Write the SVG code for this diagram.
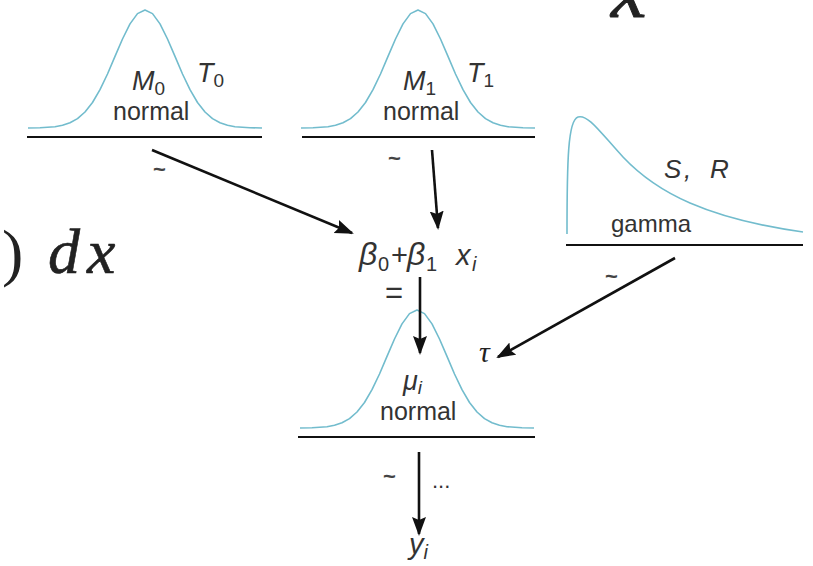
<svg xmlns="http://www.w3.org/2000/svg" width="813" height="566" viewBox="0 0 813 566">
<style>
.curve{fill:none;stroke:#72bccd;stroke-width:1.6;stroke-linejoin:round}
.base{stroke:#111;stroke-width:2}
.edge{stroke:#111;stroke-width:2.6;fill:none}
.t{font-family:"Liberation Sans",Arial,sans-serif;fill:#333}
.it{font-style:italic}
.big{font-family:"Liberation Serif","Times New Roman",serif;fill:#222}
.tilde{font-family:"Liberation Sans",Arial,sans-serif;fill:#444;font-size:22px;font-weight:bold}
</style>
<defs>
<path id="bell" d="M-117,0 L-105,-0.3 L-90,-1.3 L-82.5,-2.7 L-75,-5.2 L-67.5,-9.4 L-60,-16 L-52.5,-25.5 L-45,-38.3 L-37.5,-54 L-30,-71.6 L-22.5,-89 L-15,-104.1 L-7.5,-114.4 L0,-118 L7.5,-114.4 L15,-104.1 L22.5,-89 L30,-71.6 L37.5,-54 L45,-38.3 L52.5,-25.5 L60,-16 L67.5,-9.4 L75,-5.2 L82.5,-2.7 L90,-1.3 L105,-0.3 L117,0"/>
<marker id="ah" markerUnits="userSpaceOnUse" markerWidth="20" markerHeight="16" refX="17" refY="7" orient="auto">
<path d="M0,0 L19,7 L0,14 L3,7 Z" fill="#111"/>
</marker>
</defs>
<rect width="813" height="566" fill="#fff"/>

<g id="math-fragments">
<text class="big it" x="611" y="17" font-size="80" stroke="#222" stroke-width="1">x</text>
<text class="big" x="2" y="274" font-size="64">)</text>
<text class="big it" x="48" y="273" font-size="64" stroke="#222" stroke-width="0.6">d</text>
<text class="big it" x="87" y="273" font-size="64" stroke="#222" stroke-width="0.6">x</text>
</g>

<g id="node-m0">
<use href="#bell" class="curve" transform="translate(145,128)"/>
<line class="base" x1="27" y1="137" x2="262" y2="137"/>
<text class="t it" x="132" y="90" font-size="27">M<tspan font-style="normal" font-size="19" dy="5">0</tspan></text>
<text class="t" x="113" y="120" font-size="25">normal</text>
<text class="t it" x="197" y="82" font-size="27">T<tspan font-style="normal" font-size="19" dy="5">0</tspan></text>
</g>

<g id="node-m1">
<use href="#bell" class="curve" transform="translate(418,128)"/>
<line class="base" x1="302" y1="137" x2="535" y2="137"/>
<text class="t it" x="403" y="90" font-size="27">M<tspan font-style="normal" font-size="19" dy="5">1</tspan></text>
<text class="t" x="383" y="120" font-size="25">normal</text>
<text class="t it" x="467" y="82" font-size="27">T<tspan font-style="normal" font-size="19" dy="5">1</tspan></text>
</g>

<g id="node-gamma">
<path class="curve" d="M567,234 C567,160 568,120 578,117 C588,114 600,132 623,157 C640,175 660,190 690,203 C720,216 760,226 803,232"/>
<line class="base" x1="566" y1="245" x2="803" y2="245"/>
<text class="t it" font-size="26"><tspan x="664" y="178">S</tspan><tspan x="684" y="178">,</tspan><tspan x="710" y="178">R</tspan></text>
<text class="t" x="611" y="232" font-size="24">gamma</text>
</g>

<g id="node-linear">
<text class="t" font-size="29"><tspan class="it" x="359" y="265" font-size="32">β</tspan><tspan x="378" y="271" font-size="20">0</tspan><tspan x="391" y="265">+</tspan><tspan class="it" x="407" y="265" font-size="32">β</tspan><tspan x="426" y="271" font-size="20">1</tspan><tspan class="it" x="456" y="265">x</tspan><tspan class="it" x="472" y="271" font-size="20">i</tspan></text>
<text class="t" x="385" y="303" font-size="31">=</text>
</g>

<g id="node-mu">
<use href="#bell" class="curve" transform="translate(417,428)"/>
<line class="base" x1="298" y1="437" x2="535" y2="437"/>
<text class="t it" x="403" y="390" font-size="27">μ<tspan font-size="19" dy="4">i</tspan></text>
<text class="t" x="380" y="420" font-size="25">normal</text>
<text class="big it" x="479" y="362" font-size="30">τ</text>
</g>

<g id="node-y">
<text class="t it" x="409" y="554" font-size="29">y<tspan font-size="20" dy="5">i</tspan></text>
</g>

<g id="connectors">
<line class="edge" x1="152" y1="150" x2="352" y2="233" marker-end="url(#ah)"/>
<line class="edge" x1="432" y1="150" x2="438" y2="228" marker-end="url(#ah)"/>
<line class="edge" x1="675" y1="258" x2="498" y2="357" marker-end="url(#ah)"/>
<line class="edge" x1="420" y1="277" x2="420" y2="353" marker-end="url(#ah)"/>
<line class="edge" x1="419" y1="452" x2="419" y2="534" marker-end="url(#ah)"/>
<text class="tilde" x="153" y="177">~</text>
<text class="tilde" x="388" y="166">~</text>
<text class="tilde" x="605" y="284">~</text>
<text class="tilde" x="383" y="484">~</text>
<text class="t" x="432" y="488" font-size="22" fill="#444">...</text>
</g>
</svg>
